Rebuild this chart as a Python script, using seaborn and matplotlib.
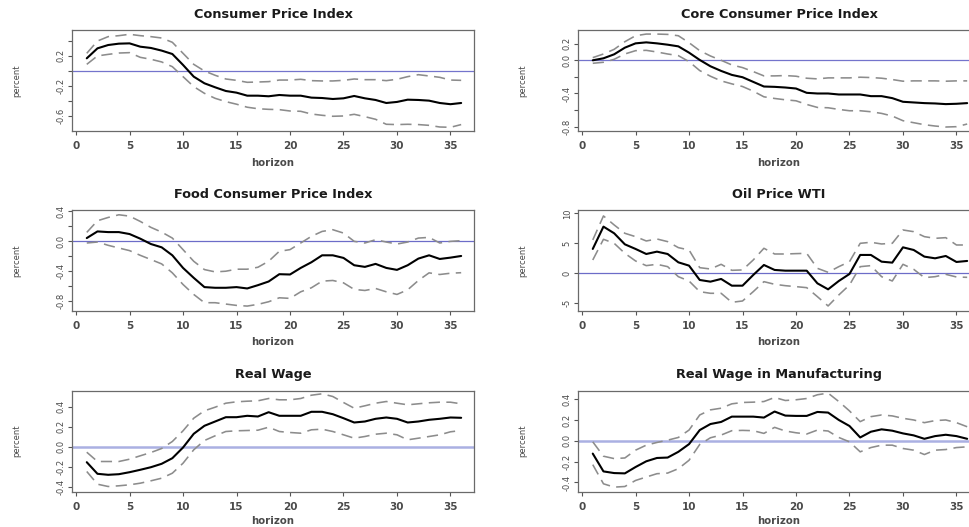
import numpy as np
import pandas as pd
import matplotlib
matplotlib.use("Agg")
import matplotlib.pyplot as plt
from matplotlib import font_manager
import seaborn as sns

# ---------------------------------------------------------------- data
horizon = list(range(1, 37))

titles = ["Consumer Price Index", "Core Consumer Price Index",
          "Food Consumer Price Index", "Oil Price WTI",
          "Real Wage", "Real Wage in Manufacturing"]

cpi_mid = [0.168, 0.30, 0.344, 0.362, 0.366, 0.322, 0.305, 0.27, 0.225, 0.08,
           -0.075, -0.163, -0.216, -0.265, -0.287, -0.327, -0.327, -0.335, -0.318, -0.327,
           -0.327, -0.353, -0.358, -0.371, -0.362, -0.331, -0.362, -0.384, -0.424, -0.41,
           -0.38, -0.384, -0.393, -0.424, -0.44, -0.424]
cpi_hi = [0.234, 0.397, 0.455, 0.468, 0.486, 0.468, 0.455, 0.437, 0.38, 0.234,
          0.088, 0.0, -0.057, -0.106, -0.124, -0.15, -0.146, -0.141, -0.12, -0.12,
          -0.11, -0.128, -0.132, -0.132, -0.124, -0.106, -0.115, -0.115, -0.128, -0.11,
          -0.075, -0.049, -0.066, -0.084, -0.12, -0.124]
cpi_lo = [0.088, 0.2, 0.22, 0.238, 0.243, 0.181, 0.155, 0.12, 0.057, -0.075,
          -0.207, -0.296, -0.362, -0.406, -0.44, -0.48, -0.5, -0.508, -0.512, -0.53,
          -0.534, -0.57, -0.587, -0.6, -0.596, -0.574, -0.605, -0.64, -0.706, -0.71,
          -0.706, -0.71, -0.72, -0.742, -0.746, -0.71]

core_mid = [0.0, 0.024, 0.072, 0.152, 0.204, 0.216, 0.204, 0.188, 0.168, 0.092,
            0.004, -0.072, -0.128, -0.176, -0.204, -0.26, -0.316, -0.32, -0.328, -0.34,
            -0.392, -0.40, -0.40, -0.412, -0.412, -0.412, -0.432, -0.432, -0.456, -0.50,
            -0.508, -0.516, -0.52, -0.528, -0.524, -0.516]
core_hi = [0.032, 0.076, 0.132, 0.224, 0.296, 0.316, 0.316, 0.312, 0.296, 0.212,
           0.116, 0.052, 0.0, -0.056, -0.088, -0.136, -0.188, -0.188, -0.184, -0.192,
           -0.216, -0.224, -0.212, -0.212, -0.212, -0.204, -0.208, -0.216, -0.232, -0.252,
           -0.248, -0.248, -0.248, -0.252, -0.248, -0.248]
core_lo = [-0.036, -0.024, 0.012, 0.076, 0.116, 0.12, 0.10, 0.076, 0.056, -0.016,
           -0.124, -0.192, -0.248, -0.284, -0.316, -0.372, -0.44, -0.46, -0.476, -0.488,
           -0.532, -0.568, -0.572, -0.592, -0.608, -0.608, -0.62, -0.64, -0.672, -0.728,
           -0.752, -0.776, -0.792, -0.804, -0.80, -0.768]

food_mid = [0.044, 0.133, 0.124, 0.124, 0.098, 0.036, -0.036, -0.08, -0.187, -0.356,
            -0.489, -0.613, -0.622, -0.622, -0.613, -0.631, -0.587, -0.538, -0.44, -0.444,
            -0.356, -0.28, -0.187, -0.187, -0.222, -0.32, -0.342, -0.302, -0.356, -0.382,
            -0.32, -0.231, -0.187, -0.236, -0.218, -0.196]
food_hi = [0.12, 0.276, 0.32, 0.356, 0.338, 0.267, 0.187, 0.124, 0.044, -0.111,
           -0.267, -0.378, -0.409, -0.40, -0.373, -0.373, -0.347, -0.267, -0.133, -0.111,
           -0.022, 0.067, 0.133, 0.156, 0.111, 0.0, -0.022, 0.022, -0.009, -0.036,
           -0.009, 0.044, 0.053, -0.022, 0.0, 0.009]
food_lo = [-0.022, -0.009, -0.053, -0.089, -0.124, -0.187, -0.244, -0.302, -0.422, -0.578,
           -0.711, -0.822, -0.822, -0.84, -0.858, -0.867, -0.844, -0.809, -0.756, -0.764,
           -0.676, -0.622, -0.533, -0.524, -0.556, -0.644, -0.658, -0.631, -0.676, -0.711,
           -0.649, -0.524, -0.422, -0.444, -0.427, -0.42]

oil_mid = [4.06, 7.78, 6.67, 4.83, 4.06, 3.22, 3.61, 3.22, 1.83, 1.28,
           -1.11, -1.39, -0.94, -2.06, -2.06, -0.28, 1.39, 0.56, 0.44, 0.44,
           0.44, -1.67, -2.67, -1.28, -0.11, 3.06, 3.06, 1.94, 1.78, 4.33,
           3.89, 2.78, 2.5, 2.89, 1.89, 2.06]
oil_hi = [5.56, 9.56, 8.06, 6.67, 6.11, 5.39, 5.72, 5.28, 4.28, 3.89,
          0.94, 0.72, 1.5, 0.5, 0.56, 2.22, 4.17, 3.22, 3.22, 3.28,
          3.33, 0.83, 0.17, 1.11, 1.94, 5.0, 5.17, 4.89, 5.0, 7.22,
          6.94, 6.11, 5.83, 5.94, 4.72, 4.72]
oil_lo = [2.22, 5.67, 5.0, 3.33, 2.06, 1.28, 1.5, 1.11, -0.56, -1.28,
          -3.06, -3.33, -3.33, -4.83, -4.61, -3.06, -1.39, -1.83, -2.06, -2.22,
          -2.39, -3.89, -5.44, -3.61, -1.94, 1.11, 1.28, -0.56, -1.28, 1.5,
          0.67, -0.72, -0.56, -0.17, -0.61, -0.67]

rw_mid = [-0.157, -0.273, -0.283, -0.277, -0.257, -0.233, -0.207, -0.173, -0.117, -0.01,
          0.127, 0.207, 0.25, 0.293, 0.293, 0.307, 0.30, 0.343, 0.307, 0.307,
          0.307, 0.347, 0.347, 0.323, 0.283, 0.24, 0.25, 0.277, 0.29, 0.277,
          0.24, 0.25, 0.267, 0.277, 0.29, 0.287]
rw_hi = [-0.057, -0.15, -0.15, -0.15, -0.127, -0.093, -0.06, -0.02, 0.05, 0.157,
         0.283, 0.357, 0.393, 0.433, 0.447, 0.453, 0.457, 0.48, 0.467, 0.467,
         0.48, 0.513, 0.527, 0.50, 0.44, 0.383, 0.407, 0.433, 0.45, 0.433,
         0.417, 0.427, 0.437, 0.443, 0.443, 0.427]
rw_lo = [-0.25, -0.377, -0.40, -0.393, -0.383, -0.367, -0.343, -0.317, -0.267, -0.167,
         -0.033, 0.06, 0.107, 0.15, 0.157, 0.16, 0.163, 0.193, 0.15, 0.14,
         0.133, 0.167, 0.173, 0.15, 0.117, 0.083, 0.10, 0.123, 0.133, 0.117,
         0.067, 0.083, 0.10, 0.117, 0.147, 0.16]

rwm_mid = [-0.123, -0.294, -0.31, -0.313, -0.252, -0.197, -0.165, -0.161, -0.106, -0.032,
           0.103, 0.161, 0.181, 0.232, 0.232, 0.232, 0.223, 0.281, 0.242, 0.239,
           0.239, 0.277, 0.271, 0.20, 0.142, 0.032, 0.087, 0.11, 0.097, 0.071,
           0.052, 0.019, 0.045, 0.058, 0.045, 0.019]
rwm_hi = [-0.01, -0.148, -0.171, -0.165, -0.09, -0.042, -0.016, 0.006, 0.032, 0.103,
          0.248, 0.297, 0.313, 0.355, 0.368, 0.371, 0.377, 0.416, 0.387, 0.394,
          0.406, 0.442, 0.458, 0.377, 0.287, 0.184, 0.232, 0.248, 0.239, 0.216,
          0.20, 0.174, 0.194, 0.20, 0.174, 0.135]
rwm_lo = [-0.229, -0.413, -0.445, -0.439, -0.381, -0.348, -0.316, -0.31, -0.268, -0.187,
          -0.035, 0.029, 0.055, 0.097, 0.10, 0.097, 0.071, 0.129, 0.094, 0.077,
          0.065, 0.103, 0.094, 0.032, -0.01, -0.106, -0.065, -0.042, -0.042, -0.074,
          -0.09, -0.132, -0.09, -0.084, -0.065, -0.058]

x_ticks = [0, 5, 10, 15, 20, 25, 30, 35]
y_ticks = [
    [-0.6, -0.4, -0.2, 0.0, 0.2, 0.4],
    [-0.8, -0.6, -0.4, -0.2, 0.0, 0.2],
    [-0.8, -0.6, -0.4, -0.2, 0.0, 0.2, 0.4],
    [-5, 0, 5, 10],
    [-0.4, -0.2, 0.0, 0.2, 0.4],
    [-0.4, -0.2, 0.0, 0.2, 0.4],
]
y_labels = [
    ["-0.6", "", "-0.2", "", "0.2", ""],
    ["-0.8", "", "-0.4", "", "0.0", "0.2"],
    ["-0.8", "", "-0.4", "", "0.0", "", "0.4"],
    ["-5", "0", "5", "10"],
    ["-0.4", "-0.2", "0.0", "0.2", "0.4"],
    ["-0.4", "-0.2", "0.0", "0.2", "0.4"],
]
y_limits = [(-0.795, 0.543), (-0.852, 0.365), (-0.933, 0.42),
            (-6.28, 10.55), (-0.45, 0.56), (-0.487, 0.483)]

responses = [(cpi_mid, cpi_hi, cpi_lo), (core_mid, core_hi, core_lo),
             (food_mid, food_hi, food_lo), (oil_mid, oil_hi, oil_lo),
             (rw_mid, rw_hi, rw_lo), (rwm_mid, rwm_hi, rwm_lo)]

# ---------------------------------------------------------------- style
sns.set_theme(style="white")
plt.rcParams["font.family"] = ["DejaVu Sans"]
plt.rcParams["axes.unicode_minus"] = False

installed = {f.name for f in font_manager.fontManager.ttflist}
narrow = "Liberation Sans Narrow" if "Liberation Sans Narrow" in installed else "DejaVu Sans"
narrow_size = 7 if narrow == "Liberation Sans Narrow" else 6

W, H = 970, 527
fig = plt.figure(figsize=(W / 100, H / 100), dpi=100)
fig.patch.set_facecolor("white")

# panel boxes in pixels: (left, top, width, height)
col_left = [72, 578]
row_top = [30, 210, 390.5]
panel_w, panel_h = 402, 101
xlabel_y = [-0.265, -0.262, -0.245]

zero_style = [("#7474cc", 0.9), ("#7474cc", 0.9), ("#6c6cc8", 0.9),
              ("#6c6cc8", 0.9), ("#aab0e2", 1.8), ("#aab0e2", 1.8)]

for k in range(6):
    r, c = divmod(k, 2)
    left, top = col_left[c], row_top[r]
    ax = fig.add_axes([left / W, (H - top - panel_h) / H, panel_w / W, panel_h / H])
    mid, hi, lo = responses[k]
    df = pd.DataFrame({"horizon": horizon, "mid": mid, "hi": hi, "lo": lo})

    zc, zw = zero_style[k]
    ax.axhline(0, color=zc, lw=zw, zorder=1)
    for col in ("hi", "lo"):
        sns.lineplot(data=df, x="horizon", y=col, ax=ax, color="#8c8c8c",
                     linewidth=1.15, linestyle=(0, (7, 4)), zorder=2)
    sns.lineplot(data=df, x="horizon", y="mid", ax=ax, color="black",
                 linewidth=1.5, zorder=3)

    ax.set_xlim(-0.38, 37.2)
    ax.set_ylim(*y_limits[k])
    ax.set_xticks(x_ticks)
    ax.set_xticklabels([str(t) for t in x_ticks], fontsize=7.5,
                       fontweight="bold", color="#4a4a4a")
    ax.set_yticks(y_ticks[k])
    ax.set_yticklabels(y_labels[k], rotation=90, va="center",
                       fontsize=narrow_size, family=narrow, color="#4a4a4a")
    ax.tick_params(axis="both", direction="out", length=3, width=0.8,
                   color="#555555", bottom=True, left=True)
    ax.tick_params(axis="x", pad=4.5)
    ax.tick_params(axis="y", pad=1.5)
    for sp in ax.spines.values():
        sp.set_color("#6a6a6a")
        sp.set_linewidth(0.9)

    ax.set_title(titles[k], fontsize=9.3, fontweight="bold", color="#1a1a1a", pad=9)
    ax.set_xlabel("horizon", fontsize=7.3, fontweight="bold", color="#4a4a4a")
    ax.xaxis.set_label_coords(0.5, xlabel_y[r])
    ax.set_ylabel("percent", fontsize=narrow_size, family=narrow, color="#4a4a4a")
    ax.yaxis.set_label_coords(-0.127, 0.5)
    ax.grid(False)

fig.savefig("out.png", dpi=100, facecolor="white")
